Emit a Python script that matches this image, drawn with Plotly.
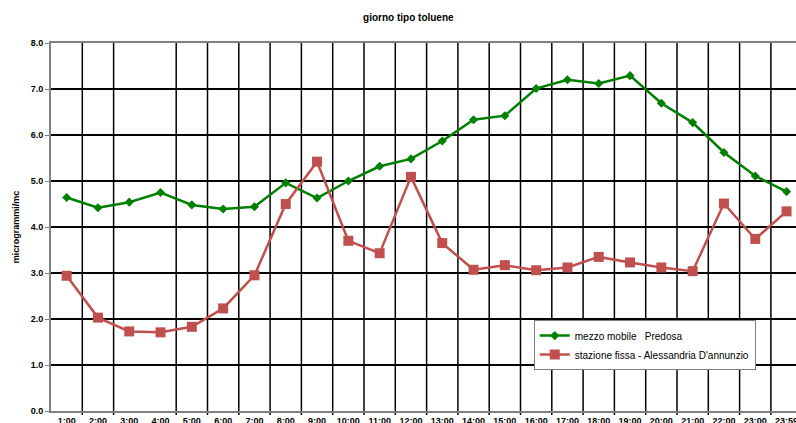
import plotly.graph_objects as go

# Hourly profile of toluene concentration (µg/m³)
hours = ["1:00", "2:00", "3:00", "4:00", "5:00", "6:00", "7:00", "8:00",
         "9:00", "10:00", "11:00", "12:00", "13:00", "14:00", "15:00", "16:00",
         "17:00", "18:00", "19:00", "20:00", "21:00", "22:00", "23:00", "23:59"]

mobile_predosa = [4.64, 4.42, 4.54, 4.75, 4.48, 4.39, 4.44, 4.96,
                  4.63, 5.00, 5.32, 5.48, 5.87, 6.33, 6.42, 7.01,
                  7.20, 7.12, 7.29, 6.69, 6.27, 5.62, 5.11, 4.77]

fissa_alessandria = [2.94, 2.03, 1.73, 1.71, 1.83, 2.23, 2.95, 4.50,
                     5.42, 3.70, 3.43, 5.09, 3.65, 3.07, 3.17, 3.06,
                     3.12, 3.35, 3.23, 3.12, 3.04, 4.51, 3.74, 4.34]

y_ticks = [0, 1, 2, 3, 4, 5, 6, 7, 8]

FONT = "Liberation Sans, Arial, sans-serif"
GREEN = "#008000"
RED = "#c0504d"

fig = go.Figure()

fig.add_trace(go.Scatter(
    x=hours, y=mobile_predosa, mode="lines+markers",
    name="mezzo mobile   Predosa",
    line=dict(color=GREEN, width=2.5),
    marker=dict(symbol="diamond", size=7, color=GREEN),
))
fig.add_trace(go.Scatter(
    x=hours, y=fissa_alessandria, mode="lines+markers",
    name="stazione fissa - Alessandria D'annunzio",
    line=dict(color=RED, width=2.5),
    marker=dict(symbol="square", size=10, color=RED),
))

# vertical grid between hour categories (one boundary left open)
shapes = []
for k in range(1, len(hours)):
    if k == 3:
        continue
    shapes.append(dict(
        type="line", xref="x", yref="paper",
        x0=k - 0.5, x1=k - 0.5, y0=-0.011, y1=1,
        line=dict(color="black", width=1.5), layer="below",
    ))

fig.update_layout(
    width=796, height=423,
    margin=dict(l=51, r=0, t=43, b=12),
    paper_bgcolor="white", plot_bgcolor="white",
    font=dict(family=FONT, color="black"),
    title=dict(
        text="giorno tipo toluene", x=0.513, xanchor="center",
        y=1 - 17 / 423, yanchor="middle", yref="container",
        font=dict(size=10, weight="bold", family=FONT),
    ),
    shapes=shapes,
    showlegend=True,
    legend=dict(
        x=0.648, y=0.247, xanchor="left", yanchor="top",
        bgcolor="white", bordercolor="#808080", borderwidth=1,
        font=dict(size=10, family=FONT),
        tracegroupgap=0, itemwidth=30,
    ),
)

fig.update_xaxes(
    type="category",
    range=[-0.5, -0.5 + 745 / 31.3],
    showgrid=False, automargin=False,
    showline=True, linecolor="#808080", linewidth=2, mirror=True,
    ticks="", tickfont=dict(size=9, weight="bold", family=FONT),
    ticklabelstandoff=0,
)

fig.update_yaxes(
    range=[0, 8], automargin=False,
    tickvals=y_ticks, tickformat=".1f",
    showgrid=True, gridcolor="black", gridwidth=1.5,
    zeroline=False,
    showline=True, linecolor="#808080", linewidth=2,
    ticks="outside", ticklen=4, tickcolor="#808080",
    tickfont=dict(size=9, weight="bold", family=FONT),
    title=dict(text="microgrammi/mc", standoff=10,
               font=dict(size=9, weight="bold", family=FONT)),
)

fig.write_html("out.html")
